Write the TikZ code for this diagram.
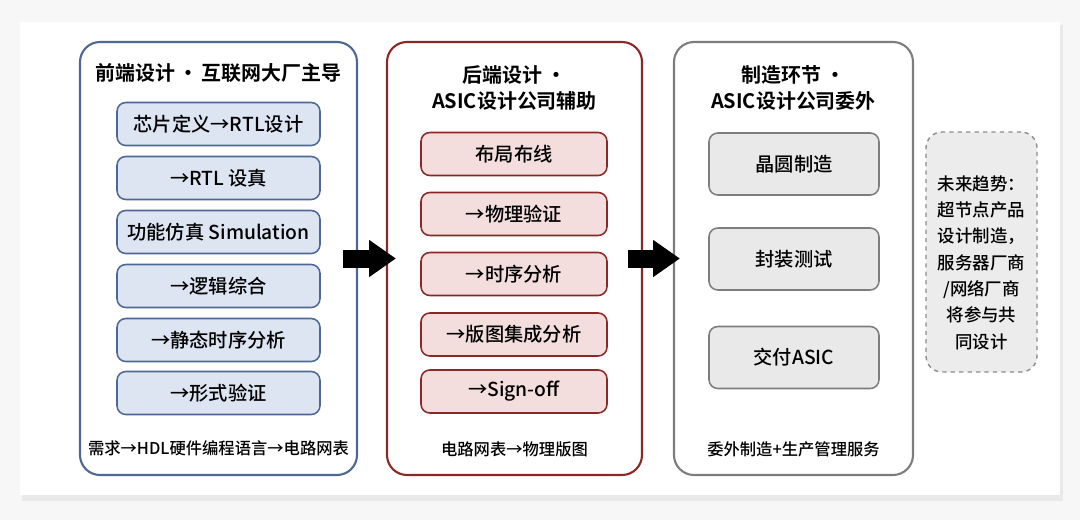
\documentclass[tikz,border=0pt]{standalone}
\usepackage{fontspec}
\setmainfont{Noto Sans CJK SC}[UprightFont=* Medium, BoldFont=* Bold]
\usetikzlibrary{positioning,arrows.meta}
\definecolor{pageBack}{RGB}{247,247,247}
\definecolor{cardShadow}{RGB}{233,233,233}
\definecolor{frontLine}{RGB}{78,104,150}
\definecolor{frontFill}{RGB}{221,229,243}
\definecolor{backLine}{RGB}{138,40,40}
\definecolor{backFill}{RGB}{243,221,221}
\definecolor{fabLine}{RGB}{125,125,125}
\definecolor{fabFill}{RGB}{233,233,233}
\definecolor{trendLine}{RGB}{140,140,140}
\definecolor{trendFill}{RGB}{236,236,236}
\newcommand{\pxUnit}{0.025cm}
\tikzstyle{diagram} = [x=\pxUnit, y=-\pxUnit]
\tikzstyle{panelStyle} = [draw, line width=1.5pt, fill=white, rounded corners=.5cm, minimum height=433*\pxUnit]
\tikzstyle{stepStyle} = [draw, line width=1.1pt, rounded corners=.22cm, font=\fontsize{13.7}{16}\selectfont]
\tikzstyle{frontStepStyle} = [draw=frontLine, fill=frontFill, minimum width=203*\pxUnit, minimum height=43*\pxUnit]
\tikzstyle{backStepStyle} = [draw=backLine, fill=backFill, minimum width=186*\pxUnit, minimum height=43*\pxUnit]
\tikzstyle{fabStepStyle} = [draw=fabLine, fill=fabFill, minimum width=170*\pxUnit, minimum height=62*\pxUnit]
\tikzstyle{titleText} = [font=\fontsize{14.2}{18.5}\selectfont\bfseries, align=center]
\tikzstyle{footText} = [font=\fontsize{11.6}{14}\selectfont]
\tikzstyle{blockArrow} = [line width=12.8pt, -{Triangle[length=19pt, width=25pt]}]
\tikzstyle{trendStyle} = [draw=trendLine, fill=trendFill, line width=1pt, dashed, rounded corners=.4cm, minimum width=111*\pxUnit, minimum height=240*\pxUnit]
\tikzstyle{trendText} = [font=\fontsize{12.4}{18.7}\selectfont, align=center]
\newcommand{\frontStep}[3]{\node [stepStyle, frontStepStyle] (#1) at (218.5,#2) {#3};}
\newcommand{\backStep}[3]{\node [stepStyle, backStepStyle] (#1) at (514,#2) {#3};}
\newcommand{\fabStep}[3]{\node [stepStyle, fabStepStyle] (#1) at (794,#2) {#3};}

\begin{document}
\begin{tikzpicture}[diagram]
  \useasboundingbox (0,0) rectangle (1080,520);
  \fill [pageBack] (0,0) rectangle (1080,520);
  \fill [cardShadow] (22,25) rectangle (1063,501);
  \fill [white] (20,22) rectangle (1060,495);
  % three stages
  \node [panelStyle, draw=frontLine, minimum width=277*\pxUnit] (frontPanel) at (218.5,258.5) {};
  \node [panelStyle, draw=backLine, minimum width=255*\pxUnit] (backPanel) at (514.5,258.5) {};
  \node [panelStyle, draw=fabLine, minimum width=239*\pxUnit] (fabPanel) at (793.5,258.5) {};
  \node [titleText] (frontTitle) at (218.5,73) {前端设计\,·\,互联网大厂主导};
  \node [titleText] (backTitle) at (514.5,88) {后端设计\,·\\ASIC设计公司辅助};
  \node [titleText] (fabTitle) at (793.5,88) {制造环节\,·\\ASIC设计公司委外};
  \frontStep{frontA}{124}{芯片定义→RTL设计}\frontStep{frontB}{178}{→RTL 设真}\frontStep{frontC}{232}{功能仿真 Simulation}
  \frontStep{frontD}{286}{→逻辑综合}\frontStep{frontE}{340}{→静态时序分析}\frontStep{frontF}{393}{→形式验证}
  \backStep{backA}{154}{布局布线}\backStep{backB}{214}{→物理验证}\backStep{backC}{274}{→时序分析}
  \backStep{backD}{334.5}{→版图集成分析}\backStep{backE}{391.5}{→Sign-off}
  \fabStep{fabA}{164}{晶圆制造}\fabStep{fabB}{259}{封装测试}\fabStep{fabC}{357.5}{交付ASIC}
  \node [footText] (frontFoot) at (218.5,448) {需求→HDL硬件编程语言→电路网表};
  \node [footText] (backFoot) at (514.5,449) {电路网表→物理版图};
  \node [footText] (fabFoot) at (793.5,449) {委外制造+生产管理服务};
  % arrows between stages
  \draw [blockArrow] ([xshift=-15*\pxUnit]frontPanel.east) -- ([xshift=10*\pxUnit]backPanel.west);
  \draw [blockArrow] ([xshift=-15*\pxUnit]backPanel.east) -- ([xshift=7*\pxUnit]fabPanel.west);
  % trend note
  \node [trendStyle] (trendBox) at (981.5,252) {};
  \node [trendText] (trendNote) at (981.5,262.5) {未来趋势：\\超节点产品\\设计制造，\\服务器厂商\\/网络厂商\\将参与共\\同设计};
\end{tikzpicture}
\end{document}
